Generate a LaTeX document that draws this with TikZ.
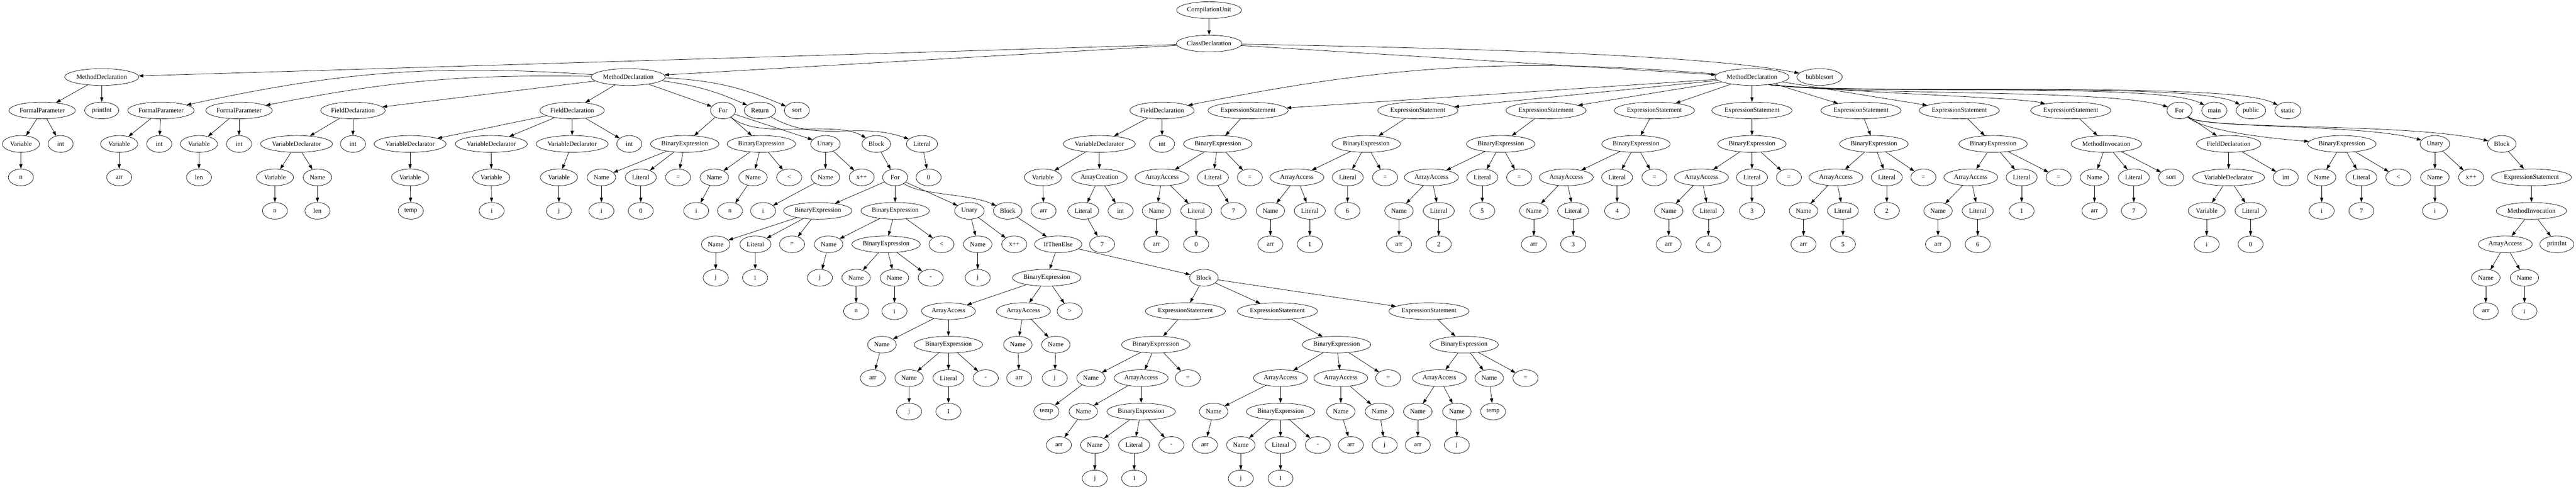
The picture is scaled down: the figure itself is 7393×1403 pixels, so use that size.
\documentclass[tikz,border=0pt]{standalone}
\usepackage{fontspec}
\setmainfont{Liberation Serif}
\usetikzlibrary{shapes.geometric,arrows.meta}
\begin{document}
\begin{tikzpicture}
    [ x=0.3pt, y=-0.3pt
    , ast/.style={ellipse, draw, line width=0.32pt, minimum width=21.6pt, minimum height=14.4pt, inner xsep=2pt, inner ysep=0pt, font=\fontsize{5.6}{6.4}\selectfont}
    , astw/.style={ast, inner xsep=0.8pt}
    , link/.style={line width=0.32pt, -{Triangle[length=4pt,width=2.8pt]}}
    ]
\useasboundingbox (0,0) rectangle (7393,1403);

% root
\node[astw] (cu) at (3470,29) {CompilationUnit};
\node[astw] (cd) at (3470,125) {ClassDeclaration};
\node[astw] (pm) at (292,221) {MethodDeclaration};
\node[astw] (sm) at (1803,221) {MethodDeclaration};
\node[astw] (mm) at (5028,221) {MethodDeclaration};
\node[ast] (bub) at (5222,221) {bubblesort};

% printInt
\node[astw] (pmfp) at (121,317) {FormalParameter};
\node[ast] (pmnm) at (292,317) {printInt};
\node[ast] (pmv) at (60,413) {Variable};
\node[ast] (pmt) at (174,413) {int};
\node[ast] (pmn) at (60,509) {n};

% sort
\node[astw] (smfa) at (462,317) {FormalParameter};
\node[astw] (smfb) at (686,317) {FormalParameter};
\node[astw] (smda) at (1013,317) {FieldDeclaration};
\node[astw] (smdb) at (1642,317) {FieldDeclaration};
\node[ast] (smfor) at (2075,317) {For};
\node[ast] (smret) at (2181,317) {Return};
\node[ast] (smnm) at (2287,317) {sort};

\node[ast] (smfav) at (342,413) {Variable};
\node[ast] (smfat) at (457,413) {int};
\node[ast] (smfbv) at (571,413) {Variable};
\node[ast] (smfbt) at (686,413) {int};
\node[astw] (smdav) at (851,413) {VariableDeclarator};
\node[ast] (smdat) at (1013,413) {int};
\node[astw] (smdba) at (1177,413) {VariableDeclarator};
\node[astw] (smdbb) at (1410,413) {VariableDeclarator};
\node[astw] (smdbc) at (1642,413) {VariableDeclarator};
\node[ast] (smdbt) at (1806,413) {int};
\node[astw] (oi) at (1965,413) {BinaryExpression};
\node[astw] (oc) at (2185,413) {BinaryExpression};
\node[ast] (ou) at (2369,413) {Unary};
\node[ast] (ob) at (2515,413) {Block};
\node[ast] (retl) at (2646,413) {Literal};

\node[ast] (smfavn) at (342,509) {arr};
\node[ast] (smfbvn) at (571,509) {len};
\node[ast] (smdavv) at (789,509) {Variable};
\node[ast] (smdavn) at (911,509) {Name};
\node[ast] (smdbav) at (1177,509) {Variable};
\node[ast] (smdbbv) at (1410,509) {Variable};
\node[ast] (smdbcv) at (1604,509) {Variable};
\node[ast] (oin) at (1726,509) {Name};
\node[ast] (oil) at (1839,509) {Literal};
\node[ast] (oio) at (1946,509) {=};
\node[ast] (ocn) at (2050,509) {Name};
\node[ast] (ocm) at (2161,509) {Name};
\node[ast] (oco) at (2265,509) {<};
\node[ast] (oun) at (2369,509) {Name};
\node[ast] (ouo) at (2473,509) {x++};
\node[ast] (inf) at (2569,509) {For};
\node[ast] (retv) at (2665,509) {0};

\node[ast] (smdavvn) at (789,605) {n};
\node[ast] (smdavnn) at (911,605) {len};
\node[ast] (smdbavn) at (1179,605) {temp};
\node[ast] (smdbbvn) at (1411,605) {i};
\node[ast] (smdbcvn) at (1604,605) {j};
\node[ast] (oinv) at (1726,605) {i};
\node[ast] (oilv) at (1839,605) {0};
\node[ast] (ocnv) at (1998,605) {i};
\node[ast] (ocmv) at (2095,605) {n};
\node[ast] (ounv) at (2190,605) {i};
\node[astw] (ii) at (2347,605) {BinaryExpression};
\node[astw] (ic) at (2569,605) {BinaryExpression};
\node[ast] (iu) at (2782,605) {Unary};
\node[ast] (ib) at (2892,605) {Block};

\node[ast] (iin) at (2054,701) {Name};
\node[ast] (iil) at (2168,701) {Literal};
\node[ast] (iio) at (2273,701) {=};
\node[ast] (icn) at (2378,701) {Name};
\node[astw] (icb) at (2543,701) {BinaryExpression};
\node[ast] (ico) at (2702,701) {<};
\node[ast] (iun) at (2806,701) {Name};
\node[ast] (iuo) at (2911,701) {x++};
\node[ast] (ite) at (3037,701) {IfThenElse};

\node[ast] (iinv) at (2054,797) {j};
\node[ast] (iilv) at (2167,797) {1};
\node[ast] (icnv) at (2353,797) {j};
\node[ast] (icbn) at (2457,797) {Name};
\node[ast] (icbm) at (2567,797) {Name};
\node[ast] (icbo) at (2671,797) {-};
\node[ast] (iunv) at (2806,797) {j};
\node[astw] (cond) at (3004,797) {BinaryExpression};
\node[ast] (swap) at (3455,797) {Block};

\node[ast] (icbnv) at (2457,893) {n};
\node[ast] (icbmv) at (2567,893) {i};
\node[ast] (cda) at (2722,893) {ArrayAccess};
\node[ast] (cdb) at (2937,893) {ArrayAccess};
\node[ast] (cdo) at (3070,893) {>};
\node[astw] (swa) at (3402,893) {ExpressionStatement};
\node[astw] (swb) at (3666,893) {ExpressionStatement};
\node[astw] (swc) at (4101,893) {ExpressionStatement};

\node[ast] (cdan) at (2531,989) {Name};
\node[astw] (cdae) at (2722,989) {BinaryExpression};
\node[ast] (cdbn) at (2921,989) {Name};
\node[ast] (cdbm) at (3030,989) {Name};
\node[astw] (swae) at (3317,989) {BinaryExpression};
\node[astw] (swbe) at (3836,989) {BinaryExpression};
\node[astw] (swce) at (4202,989) {BinaryExpression};

\node[ast] (cdanv) at (2505,1085) {arr};
\node[ast] (cdaen) at (2609,1085) {Name};
\node[ast] (cdael) at (2722,1085) {Literal};
\node[ast] (cdaeo) at (2829,1085) {-};
\node[ast] (cdbnv) at (2925,1085) {arr};
\node[ast] (cdbmv) at (3027,1085) {j};
\node[ast] (swaen) at (3131,1085) {Name};
\node[ast] (swaea) at (3275,1085) {ArrayAccess};
\node[ast] (swaeo) at (3409,1085) {=};
\node[ast] (swbea) at (3675,1085) {ArrayAccess};
\node[ast] (swbeb) at (3848,1085) {ArrayAccess};
\node[ast] (swbeo) at (3984,1085) {=};
\node[ast] (swcea) at (4131,1085) {ArrayAccess};
\node[ast] (swcen) at (4274,1085) {Name};
\node[ast] (swceo) at (4378,1085) {=};

\node[ast] (cdaenv) at (2609,1181) {j};
\node[ast] (cdaelv) at (2722,1181) {1};
\node[ast] (swaenv) at (3003,1181) {temp};
\node[ast] (swaean) at (3109,1181) {Name};
\node[astw] (swaeae) at (3275,1181) {BinaryExpression};
\node[ast] (swbean) at (3483,1181) {Name};
\node[astw] (swbeae) at (3675,1181) {BinaryExpression};
\node[ast] (swbebn) at (3848,1181) {Name};
\node[ast] (swbebm) at (3959,1181) {Name};
\node[ast] (swcean) at (4069,1181) {Name};
\node[ast] (swceam) at (4181,1181) {Name};
\node[ast] (swcenv) at (4285,1181) {temp};

\node[ast] (swaeanv) at (3039,1277) {arr};
\node[ast] (swaeaen) at (3142,1277) {Name};
\node[ast] (swaeael) at (3255,1277) {Literal};
\node[ast] (swaeaeo) at (3362,1277) {-};
\node[ast] (swbeanv) at (3458,1277) {arr};
\node[ast] (swbeaen) at (3561,1277) {Name};
\node[ast] (swbeael) at (3675,1277) {Literal};
\node[ast] (swbeaeo) at (3782,1277) {-};
\node[ast] (swbebnv) at (3877,1277) {arr};
\node[ast] (swbebmv) at (3974,1277) {j};
\node[ast] (swceanv) at (4069,1277) {arr};
\node[ast] (swceamv) at (4181,1277) {j};

\node[ast] (swaeaenv) at (3142,1373) {j};
\node[ast] (swaeaelv) at (3255,1373) {1};
\node[ast] (swbeaenv) at (3561,1373) {j};
\node[ast] (swbeaelv) at (3675,1373) {1};

% main
\node[astw] (mfd) at (3335,317) {FieldDeclaration};
\node[astw] (mfdv) at (3155,413) {VariableDeclarator};
\node[ast] (mfdt) at (3335,413) {int};
\node[ast] (mfdvv) at (2993,509) {Variable};
\node[astw] (mfdva) at (3155,509) {ArrayCreation};
\node[ast] (mfdvvn) at (2995,605) {arr};
\node[ast] (mfdval) at (3109,605) {Literal};
\node[ast] (mfdvat) at (3216,605) {int};
\node[ast] (mfdvalv) at (3163,701) {7};

\node[astw] (ma0) at (3582,317) {ExpressionStatement};
\node[astw] (ma0e) at (3495,413) {BinaryExpression};
\node[ast] (ma0a) at (3335,509) {ArrayAccess};
\node[ast] (ma0l) at (3481,509) {Literal};
\node[ast] (ma0o) at (3587,509) {=};
\node[ast] (ma0an) at (3319,605) {Name};
\node[ast] (ma0al) at (3433,605) {Literal};
\node[ast] (ma0lv) at (3540,605) {7};
\node[ast] (ma0anv) at (3319,701) {arr};
\node[ast] (ma0alv) at (3433,701) {0};

\node[astw] (ma1) at (4069,317) {ExpressionStatement};
\node[astw] (ma1e) at (3921,413) {BinaryExpression};
\node[ast] (ma1a) at (3722,509) {ArrayAccess};
\node[ast] (ma1l) at (3868,509) {Literal};
\node[ast] (ma1o) at (3975,509) {=};
\node[ast] (ma1an) at (3646,605) {Name};
\node[ast] (ma1al) at (3759,605) {Literal};
\node[ast] (ma1lv) at (3867,605) {6};
\node[ast] (ma1anv) at (3646,701) {arr};
\node[ast] (ma1alv) at (3759,701) {1};

\node[astw] (ma2) at (4437,317) {ExpressionStatement};
\node[astw] (ma2e) at (4307,413) {BinaryExpression};
\node[ast] (ma2a) at (4108,509) {ArrayAccess};
\node[ast] (ma2l) at (4254,509) {Literal};
\node[ast] (ma2o) at (4360,509) {=};
\node[ast] (ma2an) at (4015,605) {Name};
\node[ast] (ma2al) at (4129,605) {Literal};
\node[ast] (ma2lv) at (4254,605) {5};
\node[ast] (ma2anv) at (4015,701) {arr};
\node[ast] (ma2alv) at (4129,701) {2};

\node[astw] (ma3) at (4748,317) {ExpressionStatement};
\node[astw] (ma3e) at (4695,413) {BinaryExpression};
\node[ast] (ma3a) at (4495,509) {ArrayAccess};
\node[ast] (ma3l) at (4641,509) {Literal};
\node[ast] (ma3o) at (4748,509) {=};
\node[ast] (ma3an) at (4402,605) {Name};
\node[ast] (ma3al) at (4515,605) {Literal};
\node[ast] (ma3lv) at (4641,605) {4};
\node[ast] (ma3anv) at (4402,701) {arr};
\node[ast] (ma3alv) at (4515,701) {3};

\node[astw] (ma4) at (5028,317) {ExpressionStatement};
\node[astw] (ma4e) at (5028,413) {BinaryExpression};
\node[ast] (ma4a) at (4883,509) {ArrayAccess};
\node[ast] (ma4l) at (5028,509) {Literal};
\node[ast] (ma4o) at (5134,509) {=};
\node[ast] (ma4an) at (4789,605) {Name};
\node[ast] (ma4al) at (4903,605) {Literal};
\node[ast] (ma4lv) at (5028,605) {3};
\node[ast] (ma4anv) at (4789,701) {arr};
\node[ast] (ma4alv) at (4903,701) {4};

\node[astw] (ma5) at (5341,317) {ExpressionStatement};
\node[astw] (ma5e) at (5378,413) {BinaryExpression};
\node[ast] (ma5a) at (5269,509) {ArrayAccess};
\node[ast] (ma5l) at (5415,509) {Literal};
\node[ast] (ma5o) at (5520,509) {=};
\node[ast] (ma5an) at (5176,605) {Name};
\node[ast] (ma5al) at (5289,605) {Literal};
\node[ast] (ma5lv) at (5415,605) {2};
\node[ast] (ma5anv) at (5176,701) {arr};
\node[ast] (ma5alv) at (5289,701) {5};

\node[astw] (ma6) at (5623,317) {ExpressionStatement};
\node[astw] (ma6e) at (5720,413) {BinaryExpression};
\node[ast] (ma6a) at (5656,509) {ArrayAccess};
\node[ast] (ma6l) at (5802,509) {Literal};
\node[ast] (ma6o) at (5908,509) {=};
\node[ast] (ma6an) at (5562,605) {Name};
\node[ast] (ma6al) at (5676,605) {Literal};
\node[ast] (ma6lv) at (5802,605) {1};
\node[ast] (ma6anv) at (5562,701) {arr};
\node[ast] (ma6alv) at (5676,701) {6};

\node[astw] (mcall) at (5943,317) {ExpressionStatement};
\node[astw] (mcalli) at (6045,413) {MethodInvocation};
\node[ast] (mcalln) at (6011,509) {Name};
\node[ast] (mcalll) at (6124,509) {Literal};
\node[ast] (mcallm) at (6231,509) {sort};
\node[ast] (mcallnv) at (6011,605) {arr};
\node[ast] (mcalllv) at (6124,605) {7};

\node[ast] (mfor) at (6255,317) {For};
\node[ast] (mnm) at (6355,317) {main};
\node[ast] (mpub) at (6460,317) {public};
\node[ast] (mst) at (6566,317) {static};
\node[astw] (mforf) at (6396,413) {FieldDeclaration};
\node[astw] (mforc) at (6721,413) {BinaryExpression};
\node[ast] (mforu) at (6988,413) {Unary};
\node[ast] (mforb) at (7180,413) {Block};
\node[astw] (mforfv) at (6396,509) {VariableDeclarator};
\node[ast] (mforft) at (6560,509) {int};
\node[ast] (mforcn) at (6663,509) {Name};
\node[ast] (mforcl) at (6777,509) {Literal};
\node[ast] (mforco) at (6883,509) {<};
\node[ast] (mforun) at (6988,509) {Name};
\node[ast] (mforuo) at (7092,509) {x++};
\node[astw] (mforbs) at (7265,509) {ExpressionStatement};
\node[ast] (mforfvv) at (6333,605) {Variable};
\node[ast] (mforfvl) at (6459,605) {Literal};
\node[ast] (mforcnv) at (6663,605) {i};
\node[ast] (mforclv) at (6777,605) {7};
\node[ast] (mforunv) at (6988,605) {i};
\node[astw] (mforbsm) at (7265,605) {MethodInvocation};
\node[ast] (mforfvvn) at (6333,701) {i};
\node[ast] (mforfvlv) at (6459,701) {0};
\node[ast] (mforbsa) at (7190,701) {ArrayAccess};
\node[ast] (mforbsp) at (7338,701) {printInt};
\node[ast] (mforbsan) at (7134,797) {Name};
\node[ast] (mforbsam) at (7245,797) {Name};
\node[ast] (mforbsanv) at (7134,893) {arr};
\node[ast] (mforbsamv) at (7245,893) {i};

% edges
\path[link] (cu) edge (cd);
\path[link] (cd) edge (pm) edge (sm) edge (mm);
\draw[link] (cd) .. controls (4300,140) and (4900,160) .. (bub);
\path[link] (pm) edge (pmfp) edge (pmnm);
\path[link] (pmfp) edge (pmv) edge (pmt);
\path[link] (pmv) edge (pmn);

\path[link] (sm) edge[bend right=8] (smfa) edge[bend right=6] (smfb) edge (smda) edge (smdb) edge (smfor) edge[bend left=8] (smret) edge[bend left=10] (smnm);
\path[link] (smfa) edge (smfav) edge (smfat);
\path[link] (smfav) edge (smfavn);
\path[link] (smfb) edge (smfbv) edge (smfbt);
\path[link] (smfbv) edge (smfbvn);
\path[link] (smda) edge (smdav) edge (smdat);
\path[link] (smdav) edge (smdavv) edge (smdavn);
\path[link] (smdavv) edge (smdavvn);
\path[link] (smdavn) edge (smdavnn);
\path[link] (smdb) edge (smdba) edge (smdbb) edge (smdbc) edge (smdbt);
\path[link] (smdba) edge (smdbav);
\path[link] (smdbb) edge (smdbbv);
\path[link] (smdbc) edge (smdbcv);
\path[link] (smdbav) edge (smdbavn);
\path[link] (smdbbv) edge (smdbbvn);
\path[link] (smdbcv) edge (smdbcvn);
\path[link] (smfor) edge (oi) edge (oc) edge (ou);
\draw[link] (smfor) .. controls (2180,405) and (2392,342) .. (ob);
\draw[link] (smret) .. controls (2349,414) and (2461,346) .. (retl);
\path[link] (retl) edge (retv);
\path[link] (oi) edge (oin) edge (oil) edge (oio);
\path[link] (oc) edge (ocn) edge (ocm) edge (oco);
\path[link] (ou) edge (oun) edge (ouo);
\path[link] (ob) edge (inf);
\path[link] (oin) edge (oinv);
\path[link] (oil) edge (oilv);
\path[link] (ocn) edge (ocnv);
\path[link] (ocm) edge (ocmv);
\path[link] (oun) edge (ounv);
\path[link] (inf) edge (ii) edge (ic) edge (iu);
\draw[link] (inf) .. controls (2640,560) and (2780,555) .. (ib);
\path[link] (ii) edge (iin) edge (iil) edge (iio);
\path[link] (ic) edge (icn) edge (icb) edge (ico);
\path[link] (iu) edge (iun) edge (iuo);
\path[link] (ib) edge (ite);
\path[link] (iin) edge (iinv);
\path[link] (iil) edge (iilv);
\path[link] (icn) edge (icnv);
\path[link] (icb) edge (icbn) edge (icbm) edge (icbo);
\path[link] (icbn) edge (icbnv);
\path[link] (icbm) edge (icbmv);
\path[link] (iun) edge (iunv);
\path[link] (ite) edge (cond) edge (swap);
\path[link] (cond) edge (cda) edge (cdb) edge (cdo);
\path[link] (cda) edge (cdan) edge (cdae);
\path[link] (cdb) edge (cdbn) edge (cdbm);
\path[link] (cdan) edge (cdanv);
\path[link] (cdae) edge (cdaen) edge (cdael) edge (cdaeo);
\path[link] (cdaen) edge (cdaenv);
\path[link] (cdael) edge (cdaelv);
\path[link] (cdbn) edge (cdbnv);
\path[link] (cdbm) edge (cdbmv);
\path[link] (swap) edge (swa) edge (swb) edge (swc);
\path[link] (swa) edge (swae);
\path[link] (swb) edge (swbe);
\path[link] (swc) edge (swce);
\path[link] (swae) edge (swaen) edge (swaea) edge (swaeo);
\path[link] (swaen) edge (swaenv);
\path[link] (swaea) edge (swaean) edge (swaeae);
\path[link] (swaean) edge (swaeanv);
\path[link] (swaeae) edge (swaeaen) edge (swaeael) edge (swaeaeo);
\path[link] (swaeaen) edge (swaeaenv);
\path[link] (swaeael) edge (swaeaelv);
\path[link] (swbe) edge (swbea) edge (swbeb) edge (swbeo);
\path[link] (swbea) edge (swbean) edge (swbeae);
\path[link] (swbean) edge (swbeanv);
\path[link] (swbeae) edge (swbeaen) edge (swbeael) edge (swbeaeo);
\path[link] (swbeaen) edge (swbeaenv);
\path[link] (swbeael) edge (swbeaelv);
\path[link] (swbeb) edge (swbebn) edge (swbebm);
\path[link] (swbebn) edge (swbebnv);
\path[link] (swbebm) edge (swbebmv);
\path[link] (swce) edge (swcea) edge (swcen) edge (swceo);
\path[link] (swcea) edge (swcean) edge (swceam);
\path[link] (swcean) edge (swceanv);
\path[link] (swceam) edge (swceamv);
\path[link] (swcen) edge (swcenv);

\path[link] (mm) edge[bend right=8] (mfd) edge (ma0) edge (ma1) edge (ma2) edge (ma3) edge (ma4) edge (ma5) edge (ma6);
% under bubblesort
\draw[link] (mm.-25) .. controls (5400,270) and (5800,280) .. (mcall);
\draw[link] (mm.-25) .. controls (5350,275) and (6050,255) .. (mfor);
\draw[link] (mm.-25) .. controls (5350,275) and (6200,235) .. (mnm);
\draw[link] (mm.-25) .. controls (5350,275) and (6300,232) .. (mpub);
\draw[link] (mm.-25) .. controls (5350,275) and (6400,230) .. (mst);
\path[link] (mfd) edge (mfdv) edge (mfdt);
\path[link] (mfdv) edge (mfdvv) edge (mfdva);
\path[link] (mfdvv) edge (mfdvvn);
\path[link] (mfdva) edge (mfdval) edge (mfdvat);
\path[link] (mfdval) edge (mfdvalv);

\path[link] (ma0) edge (ma0e);
\path[link] (ma0e) edge (ma0a) edge (ma0l) edge (ma0o);
\path[link] (ma0a) edge (ma0an) edge (ma0al);
\path[link] (ma0l) edge (ma0lv);
\path[link] (ma0an) edge (ma0anv);
\path[link] (ma0al) edge (ma0alv);

\path[link] (ma1) edge (ma1e);
\path[link] (ma1e) edge (ma1a) edge (ma1l) edge (ma1o);
\path[link] (ma1a) edge (ma1an) edge (ma1al);
\path[link] (ma1l) edge (ma1lv);
\path[link] (ma1an) edge (ma1anv);
\path[link] (ma1al) edge (ma1alv);

\path[link] (ma2) edge (ma2e);
\path[link] (ma2e) edge (ma2a) edge (ma2l) edge (ma2o);
\path[link] (ma2a) edge (ma2an) edge (ma2al);
\path[link] (ma2l) edge (ma2lv);
\path[link] (ma2an) edge (ma2anv);
\path[link] (ma2al) edge (ma2alv);

\path[link] (ma3) edge (ma3e);
\path[link] (ma3e) edge (ma3a) edge (ma3l) edge (ma3o);
\path[link] (ma3a) edge (ma3an) edge (ma3al);
\path[link] (ma3l) edge (ma3lv);
\path[link] (ma3an) edge (ma3anv);
\path[link] (ma3al) edge (ma3alv);

\path[link] (ma4) edge (ma4e);
\path[link] (ma4e) edge (ma4a) edge (ma4l) edge (ma4o);
\path[link] (ma4a) edge (ma4an) edge (ma4al);
\path[link] (ma4l) edge (ma4lv);
\path[link] (ma4an) edge (ma4anv);
\path[link] (ma4al) edge (ma4alv);

\path[link] (ma5) edge (ma5e);
\path[link] (ma5e) edge (ma5a) edge (ma5l) edge (ma5o);
\path[link] (ma5a) edge (ma5an) edge (ma5al);
\path[link] (ma5l) edge (ma5lv);
\path[link] (ma5an) edge (ma5anv);
\path[link] (ma5al) edge (ma5alv);

\path[link] (ma6) edge (ma6e);
\path[link] (ma6e) edge (ma6a) edge (ma6l) edge (ma6o);
\path[link] (ma6a) edge (ma6an) edge (ma6al);
\path[link] (ma6l) edge (ma6lv);
\path[link] (ma6an) edge (ma6anv);
\path[link] (ma6al) edge (ma6alv);

\path[link] (mcall) edge (mcalli);
\path[link] (mcalli) edge (mcalln) edge (mcalll) edge (mcallm);
\path[link] (mcalln) edge (mcallnv);
\path[link] (mcalll) edge (mcalllv);

% below main
\path[link] (mfor) edge (mforf);
\draw[link] (mfor) .. controls (6330,380) and (6550,400) .. (mforc);
\draw[link] (mfor) .. controls (6320,370) and (6780,355) .. (mforu);
\draw[link] (mfor) .. controls (6330,375) and (6900,350) .. (mforb);
\path[link] (mforf) edge (mforfv) edge (mforft);
\path[link] (mforfv) edge (mforfvv) edge (mforfvl);
\path[link] (mforfvv) edge (mforfvvn);
\path[link] (mforfvl) edge (mforfvlv);
\path[link] (mforc) edge (mforcn) edge (mforcl) edge (mforco);
\path[link] (mforcn) edge (mforcnv);
\path[link] (mforcl) edge (mforclv);
\path[link] (mforu) edge (mforun) edge (mforuo);
\path[link] (mforun) edge (mforunv);
\path[link] (mforb) edge (mforbs);
\path[link] (mforbs) edge (mforbsm);
\path[link] (mforbsm) edge (mforbsa) edge (mforbsp);
\path[link] (mforbsa) edge (mforbsan) edge (mforbsam);
\path[link] (mforbsan) edge (mforbsanv);
\path[link] (mforbsam) edge (mforbsamv);

\end{tikzpicture}
\end{document}
